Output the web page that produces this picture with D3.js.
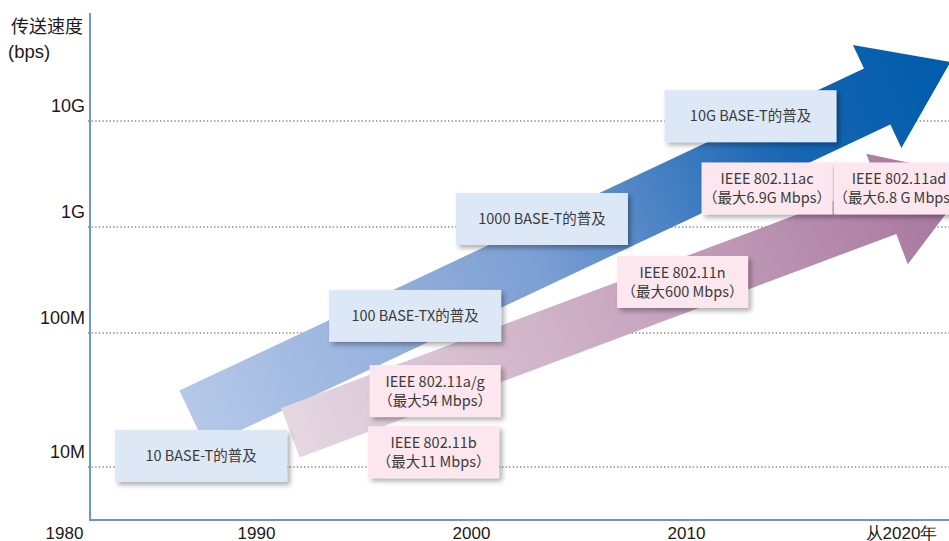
<!DOCTYPE html>
<html>
<head>
<meta charset="utf-8">
<script src="https://cdn.jsdelivr.net/npm/d3@7"></script>
<style>
  html, body { margin: 0; padding: 0; background: #fff; }
  svg { display: block; }
</style>
</head>
<body>
<svg></svg>
<script>
// ticks
let yearTicks = [1980, 1990, 2000, 2010, 2020]
let yearLabels = ['1980', '1990', '2000', '2010', '从2020年']
let speedTicks = [1e7, 1e8, 1e9, 1e10]
let speedLabels = ['10M', '100M', '1G', '10G']

// arrows: tail centre -> tip, in (year, bps)
let arrowKinds = ['wired', 'wireless']
let arrowStartYear = [1986.7, 1991.6]
let arrowStartBps = [2.3e7, 1.8e7]
let arrowEndYear = [2022.3, 2023.4]
let arrowEndBps = [3.6e10, 3.0e9]

// label boxes, centred on (year, bps)
let boxKinds = ['wired', 'wired', 'wired', 'wired', 'wireless', 'wireless', 'wireless', 'wireless', 'wireless']
let boxLines = [
  ['10 BASE-T的普及'],
  ['100 BASE-TX的普及'],
  ['1000 BASE-T的普及'],
  ['10G BASE-T的普及'],
  ['IEEE 802.11b', '（最大11 Mbps）'],
  ['IEEE 802.11a/g', '（最大54 Mbps）'],
  ['IEEE 802.11n', '（最大600 Mbps）'],
  ['IEEE 802.11ac', '（最大6.9G Mbps）'],
  ['IEEE 802.11ad', '（最大6.8 G Mbps）']
]
let boxYear = [1987.14, 1997.4, 2003.3, 2013.0, 1998.26, 1998.33, 2009.84, 2013.77, 2019.91]
let boxBps = [1.21e7, 1.45e8, 1.19e9, 1.11e10, 1.29e7, 3.69e7, 3.03e8, 2.31e9, 2.31e9]

let width = 949
let height = 541
let axisX = 90
let axisY = 520

let svg = d3.select('svg')
  .attr('width', width)
  .attr('height', height)

let xScale = d3.scaleLinear()
  .domain([1980, 1990, 2020])
  .range([64, 256, 901])

let yScale = d3.scaleLog()
  .domain([1e7, 1e8, 1e10])
  .range([467, 333, 121])

let arrowStyle = {
  wired: { body: 62, head: 114, headLen: 81, stops: [[0, '#b5c8e8'], [0.45, '#7d9fd4'], [0.78, '#1766b3'], [1, '#005cab']] },
  wireless: { body: 53, head: 118, headLen: 93, stops: [[0, '#e5d7e2'], [0.5, '#c8a7c0'], [1, '#a5729b']] }
}
let boxStyle = {
  wired: { w: 172, h: 52, fill: '#dde8f6' },
  wireless: { w: 131, h: 52, fill: '#fbe7ed' }
}

let labelFont = '"Liberation Sans", Arial, sans-serif'
let textColor = '#231815'

let defs = svg.append('defs')

let shadow = defs.append('filter')
  .attr('id', 'shadow')
  .attr('x', '-20%').attr('y', '-20%')
  .attr('width', '150%').attr('height', '160%')
shadow.append('feDropShadow')
  .attr('dx', 3).attr('dy', 3)
  .attr('stdDeviation', 2.5)
  .attr('flood-color', '#000')
  .attr('flood-opacity', 0.32)

let drawGrid = () => {
  svg.append('g')
    .selectAll('line')
    .data(speedTicks)
    .enter()
    .append('line')
    .attr('x1', axisX - 2)
    .attr('x2', width)
    .attr('y1', (d) => yScale(d))
    .attr('y2', (d) => yScale(d))
    .attr('stroke', '#8a8a8a')
    .attr('stroke-width', 1.4)
    .attr('stroke-dasharray', '1.4,2.2')
}

let drawArrows = () => {
  let arrows = arrowKinds.map((k, i) => {
    let x0 = xScale(arrowStartYear[i]), y0 = yScale(arrowStartBps[i])
    let x1 = xScale(arrowEndYear[i]), y1 = yScale(arrowEndBps[i])
    return { kind: k, x0, y0, x1, y1 }
  })

  arrows.forEach((a) => {
    let st = arrowStyle[a.kind]
    let grad = defs.append('linearGradient')
      .attr('id', 'grad-' + a.kind)
      .attr('gradientUnits', 'userSpaceOnUse')
      .attr('x1', a.x0).attr('y1', a.y0)
      .attr('x2', a.x1).attr('y2', a.y1)
    st.stops.forEach((s) => {
      grad.append('stop').attr('offset', s[0]).attr('stop-color', s[1])
    })
  })

  svg.append('g')
    .selectAll('path')
    .data(arrows)
    .enter()
    .append('path')
    .attr('d', (a) => {
      let st = arrowStyle[a.kind]
      let dx = a.x1 - a.x0, dy = a.y1 - a.y0
      let len = Math.hypot(dx, dy)
      let ux = dx / len, uy = dy / len
      let nx = -uy, ny = ux
      let bx = a.x1 - ux * st.headLen, by = a.y1 - uy * st.headLen
      let b = st.body / 2, h = st.head / 2
      let pts = [
        [a.x0 + nx * b, a.y0 + ny * b],
        [bx + nx * b, by + ny * b],
        [bx + nx * h, by + ny * h],
        [a.x1, a.y1],
        [bx - nx * h, by - ny * h],
        [bx - nx * b, by - ny * b],
        [a.x0 - nx * b, a.y0 - ny * b]
      ]
      return d3.line()(pts) + 'Z'
    })
    .attr('fill', (a) => 'url(#grad-' + a.kind + ')')
}

let drawBoxes = () => {
  let boxes = boxKinds.map((k, i) => ({
    kind: k, lines: boxLines[i], cx: xScale(boxYear[i]), cy: yScale(boxBps[i])
  }))

  let g = svg.append('g')
    .selectAll('g')
    .data(boxes)
    .enter()
    .append('g')
    .attr('transform', (b) => 'translate(' + b.cx + ',' + b.cy + ')')

  g.append('rect')
    .attr('x', (b) => -boxStyle[b.kind].w / 2)
    .attr('y', (b) => -boxStyle[b.kind].h / 2)
    .attr('width', (b) => boxStyle[b.kind].w)
    .attr('height', (b) => boxStyle[b.kind].h)
    .attr('fill', (b) => boxStyle[b.kind].fill)
    .attr('filter', 'url(#shadow)')

  g.each(function (b) {
    let n = b.lines.length
    d3.select(this).selectAll('text')
      .data(b.lines)
      .enter()
      .append('text')
      .attr('x', 0)
      .attr('y', (d, i) => (i - (n - 1) / 2) * 19)
      .attr('dy', '0.35em')
      .attr('text-anchor', 'middle')
      .attr('font-family', '"Noto Sans CJK SC", "Noto Sans", sans-serif')
      .attr('font-size', '14.5px')
      .attr('fill', '#3b3b3b')
      .text((d) => d)
  })
}

let drawAxis = () => {
  let xAxis = d3.axisBottom(xScale)
    .tickValues(yearTicks)
    .tickSize(0)
    .tickPadding(0)
    .tickFormat((d, i) => yearLabels[i])

  let xg = svg.append('g')
    .attr('transform', 'translate(0,' + (axisY + 19) + ')')
    .call(xAxis)
  xg.select('.domain').remove()
  xg.selectAll('text')
    .attr('dy', 0)
    .attr('y', 0)
    .attr('font-family', labelFont)
    .attr('font-size', '17px')
    .attr('fill', textColor)

  let yAxis = d3.axisLeft(yScale)
    .tickValues(speedTicks)
    .tickSize(0)
    .tickPadding(5)
    .tickFormat((d, i) => speedLabels[i])

  let yg = svg.append('g')
    .attr('transform', 'translate(' + axisX + ',0)')
    .call(yAxis)
  yg.select('.domain').remove()
  yg.selectAll('text')
    .attr('dy', -9.5)
    .attr('font-family', labelFont)
    .attr('font-size', '18px')
    .attr('fill', textColor)

  svg.append('line')
    .attr('x1', axisX).attr('x2', axisX)
    .attr('y1', 13).attr('y2', axisY + 1)
    .attr('stroke', '#6b98cc')
    .attr('stroke-width', 2)
  svg.append('line')
    .attr('x1', axisX - 1).attr('x2', width)
    .attr('y1', axisY).attr('y2', axisY)
    .attr('stroke', '#6b98cc')
    .attr('stroke-width', 2)

  svg.append('text')
    .attr('x', 11)
    .attr('y', 33)
    .attr('font-family', '"Liberation Sans", "Noto Sans CJK SC", sans-serif')
    .attr('font-size', '18px')
    .attr('fill', textColor)
    .text('传送速度')
  svg.append('text')
    .attr('x', 8)
    .attr('y', 58)
    .attr('font-family', labelFont)
    .attr('font-size', '18.5px')
    .attr('fill', textColor)
    .text('(bps)')
}

drawGrid()
drawArrows()
drawBoxes()
drawAxis()
</script>
</body>
</html>
